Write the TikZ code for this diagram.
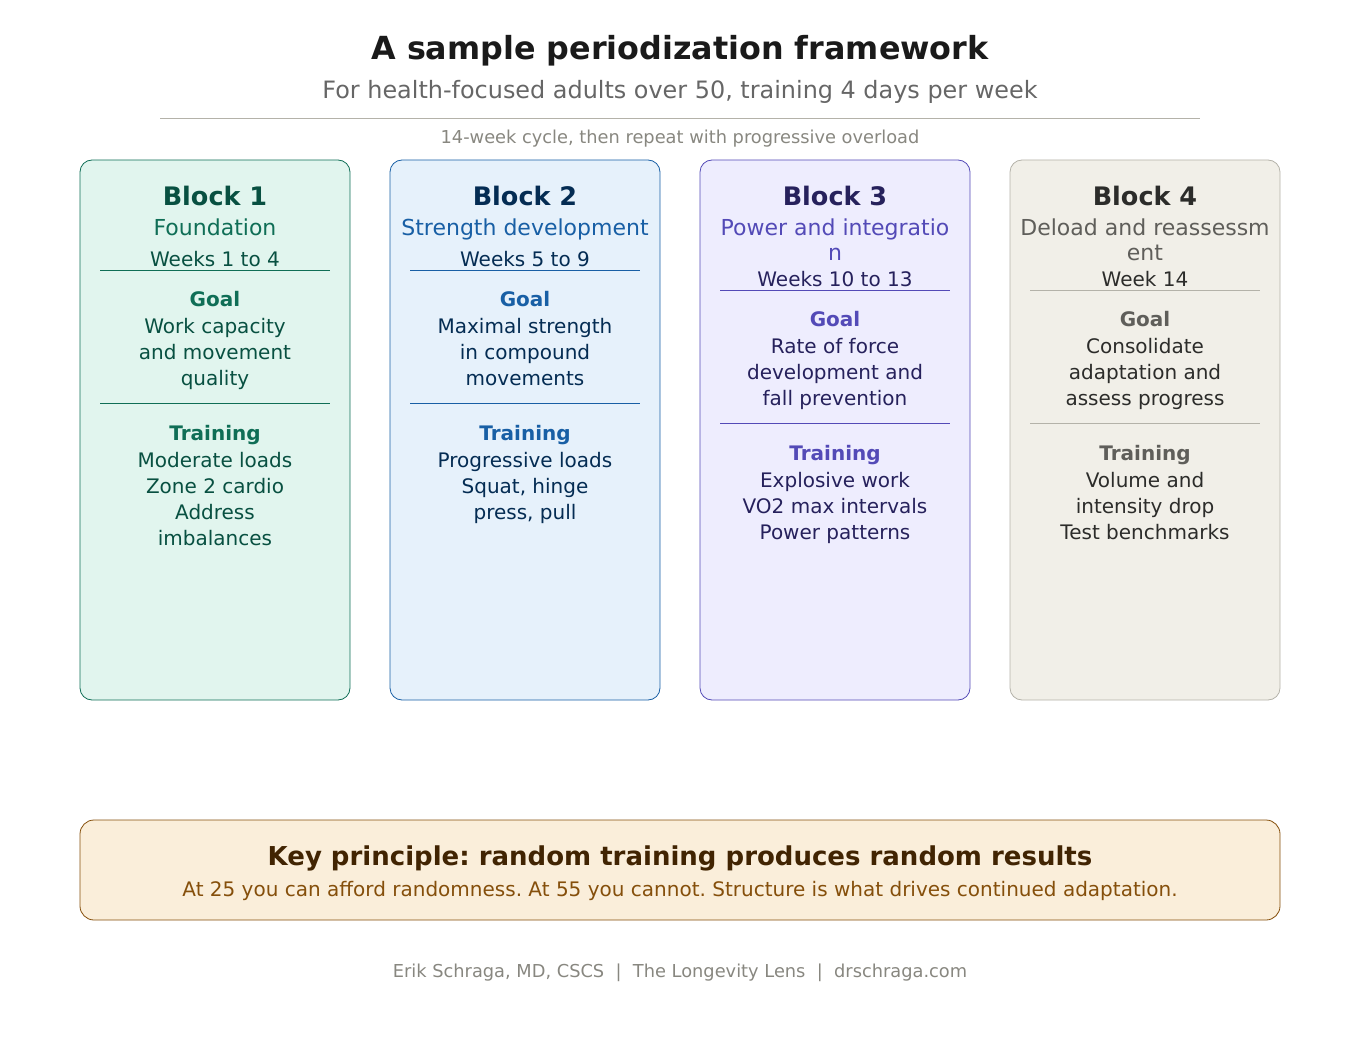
\documentclass[tikz,border=0pt]{standalone}
\usepackage{fontspec}
\setmainfont{DejaVu Sans}
\usetikzlibrary{positioning,calc}
\frenchspacing

\definecolor{tealbg}{HTML}{E1F5EE}
\definecolor{tealln}{HTML}{0F6E56}
\definecolor{tealdk}{HTML}{085041}
\definecolor{bluebg}{HTML}{E6F1FB}
\definecolor{blueln}{HTML}{185FA5}
\definecolor{bluedk}{HTML}{042C53}
\definecolor{purpbg}{HTML}{EEEDFE}
\definecolor{purpln}{HTML}{534AB7}
\definecolor{purpdk}{HTML}{26215C}
\definecolor{graybg}{HTML}{F1EFE8}
\definecolor{grayln}{HTML}{B4B2A9}
\definecolor{graymd}{HTML}{5F5E5A}
\definecolor{graydk}{HTML}{2C2C2A}
\definecolor{ambbg}{HTML}{FAEEDA}
\definecolor{ambln}{HTML}{854F0B}
\definecolor{ambdk}{HTML}{412402}
\definecolor{headtxt}{HTML}{1A1A1A}
\definecolor{subtxt}{HTML}{666666}
\definecolor{notetxt}{HTML}{888780}

% one line per node, 26px apart
\newcommand{\blocklines}[5]{%
  \foreach \ln [count=\i from 0] in {#5}
    \node[body,text=#3] (#4\i) at (#1,#2+26*\i) {\ln};
}

\begin{document}
\begin{tikzpicture}[x=1pt,y=-1pt,
  every node/.style={inner sep=0pt,anchor=base},
  blockbox/.style={draw=#1,line width=0.8pt,rounded corners=12pt},
  blocktitle/.style={font=\fontsize{25.5}{30}\bfseries\selectfont},
  blocksub/.style={font=\fontsize{22}{25}\selectfont},
  body/.style={font=\fontsize{20}{26}\selectfont},
  label/.style={font=\fontsize{20}{26}\bfseries\selectfont},
  sep/.style={draw=#1,line width=0.8pt}]
\useasboundingbox (0,0) rectangle (1360,1040);

% header
\node[text=headtxt,font=\fontsize{31.8}{36}\bfseries\selectfont] (title) at (680,60) {A sample periodization framework};
\node[text=subtxt,font=\fontsize{23.9}{28}\selectfont] (subtitle) at (680,99) {For health-focused adults over 50, training 4 days per week};
\coordinate (hl) at (160,118);
\coordinate (hr) at (1200,118);
\draw[grayln,line width=0.8pt] (hl) -- (hr);
\node[text=notetxt,font=\fontsize{17.8}{20}\selectfont] (cycle) at (680,144) {14-week cycle, then repeat with progressive overload};

% block 1
\draw[blockbox=tealln,fill=tealbg] (80,160) rectangle (350,700);
\node[blocktitle,text=tealdk] (b1) at (215,206) {Block 1};
\node[blocksub,text=tealln] (b1sub) at (215,236) {Foundation};
\node[body,text=tealdk] (b1wk) at (215,267) {Weeks 1 to 4};
\draw[sep=tealln] (100,270) -- (330,270);
\node[label,text=tealln] (b1goal) at (215,307) {Goal};
\blocklines{215}{334}{tealdk}{b1g}{Work capacity,and movement,quality}
\draw[sep=tealln] (100,403) -- (330,403);
\node[label,text=tealln] (b1tr) at (215,440) {Training};
\blocklines{215}{467}{tealdk}{b1t}{Moderate loads,Zone 2 cardio,Address,imbalances}

% block 2
\draw[blockbox=blueln,fill=bluebg] (390,160) rectangle (660,700);
\node[blocktitle,text=bluedk] (b2) at (525,206) {Block 2};
\node[blocksub,text=blueln] (b2sub) at (525,236) {Strength development};
\node[body,text=bluedk] (b2wk) at (525,267) {Weeks 5 to 9};
\draw[sep=blueln] (410,270) -- (640,270);
\node[label,text=blueln] (b2goal) at (525,307) {Goal};
\blocklines{525}{334}{bluedk}{b2g}{Maximal strength,in compound,movements}
\draw[sep=blueln] (410,403) -- (640,403);
\node[label,text=blueln] (b2tr) at (525,440) {Training};
\blocklines{525}{467}{bluedk}{b2t}{Progressive loads,{Squat, hinge},{press, pull}}

% block 3
\draw[blockbox=purpln,fill=purpbg] (700,160) rectangle (970,700);
\node[blocktitle,text=purpdk] (b3) at (835,206) {Block 3};
\node[blocksub,text=purpln] (b3sub) at (835,236) {Power and integratio};
\node[blocksub,text=purpln] (b3subb) at (835,261) {n};
\node[body,text=purpdk] (b3wk) at (835,287) {Weeks 10 to 13};
\draw[sep=purpln] (720,290) -- (950,290);
\node[label,text=purpln] (b3goal) at (835,327) {Goal};
\blocklines{835}{354}{purpdk}{b3g}{Rate of force,development and,fall prevention}
\draw[sep=purpln] (720,423) -- (950,423);
\node[label,text=purpln] (b3tr) at (835,460) {Training};
\blocklines{835}{487}{purpdk}{b3t}{Explosive work,VO2 max intervals,Power patterns}

% block 4
\draw[blockbox=grayln,fill=graybg] (1010,160) rectangle (1280,700);
\node[blocktitle,text=graydk] (b4) at (1145,206) {Block 4};
\node[blocksub,text=graymd] (b4sub) at (1145,236) {Deload and reassessm};
\node[blocksub,text=graymd] (b4subb) at (1145,261) {ent};
\node[body,text=graydk] (b4wk) at (1145,287) {Week 14};
\draw[sep=grayln] (1030,290) -- (1260,290);
\node[label,text=graymd] (b4goal) at (1145,327) {Goal};
\blocklines{1145}{354}{graydk}{b4g}{Consolidate,adaptation and,assess progress}
\draw[sep=grayln] (1030,423) -- (1260,423);
\node[label,text=graymd] (b4tr) at (1145,460) {Training};
\blocklines{1145}{487}{graydk}{b4t}{Volume and,intensity drop,Test benchmarks}

% key principle
\draw[blockbox=ambln,fill=ambbg,rounded corners=14pt] (80,820) rectangle (1280,920);
\node[text=ambdk,font=\fontsize{26}{30}\bfseries\selectfont] (key) at (680,865) {Key principle: random training produces random results};
\node[text=ambln,font=\fontsize{20}{24}\selectfont] (keytxt) at (680,896) {At 25 you can afford randomness. At 55 you cannot. Structure is what drives continued adaptation.};

% footer
\node[text=notetxt,font=\fontsize{17.8}{20}\selectfont] (foot) at (680,977) {Erik Schraga, MD, CSCS~~|~~The Longevity Lens~~|~~drschraga.com};
\end{tikzpicture}
\end{document}
